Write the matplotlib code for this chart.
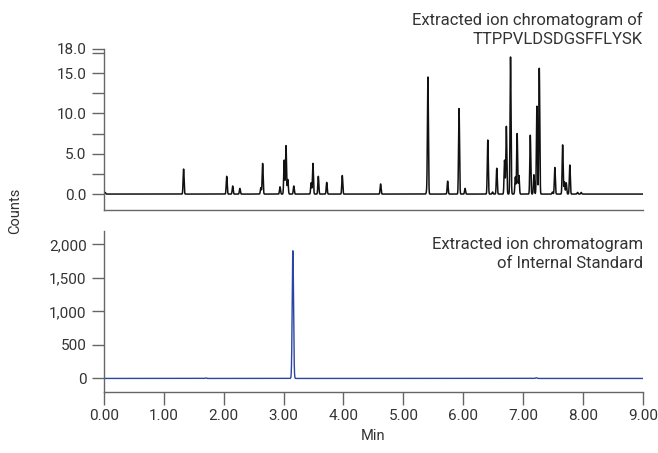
import numpy as np
import matplotlib.pyplot as plt
from matplotlib.ticker import FuncFormatter, MultipleLocator

plt.rcParams['font.family'] = ['Roboto', 'DejaVu Sans']

# peak retention times (min) and heights
pep_rt = [0.02, 1.33, 2.05, 2.15, 2.27, 2.62, 2.65, 2.94, 3.01, 3.04, 3.07, 3.17,
          3.46, 3.49, 3.58, 3.72, 3.98, 4.62, 5.39, 5.41, 5.74, 5.93, 6.03, 6.41,
          6.49, 6.56, 6.69, 6.72, 6.79, 6.87, 6.90, 6.93, 7.12, 7.18, 7.23, 7.27,
          7.49, 7.53, 7.66, 7.69, 7.72, 7.78, 7.91, 7.97]
pep_h = [0.2, 3.1, 2.2, 1.0, 0.7, 0.8, 3.8, 0.9, 4.2, 6.0, 1.8, 1.0,
         1.4, 3.8, 2.2, 1.45, 2.3, 1.25, 0.3, 14.5, 1.6, 10.6, 0.7, 6.7,
         0.25, 3.2, 4.2, 8.4, 17.0, 2.1, 7.5, 2.3, 7.3, 2.4, 10.9, 15.6,
         0.25, 3.3, 6.1, 1.5, 1.4, 3.6, 0.2, 0.2]

is_rt = [1.70, 3.155, 7.22]
is_h = [8, 1905, 10]

t = np.linspace(0, 9, 9001)


def trace(rts, hs, sigma):
    y = np.zeros_like(t)
    for r, h in zip(rts, hs):
        y += h * np.exp(-0.5 * ((t - r) / sigma) ** 2)
    return y


txt = '#333333'
spine = '#666666'

fig = plt.figure(figsize=(6.58, 4.53), dpi=100)
ax1 = fig.add_axes([0.158, 0.536, 0.819, 0.356])
ax2 = fig.add_axes([0.158, 0.135, 0.819, 0.355])

ax1.plot(t, trace(pep_rt, pep_h, 0.008), color='#111111', lw=1.1)
ax2.plot(t, trace(is_rt, is_h, 0.011), color='#2b45a3', lw=1.0)

for ax in (ax1, ax2):
    ax.set_xlim(0, 9)
    for s in ('top', 'right'):
        ax.spines[s].set_visible(False)
    for s in ('left', 'bottom'):
        ax.spines[s].set_color(spine)
        ax.spines[s].set_linewidth(1.0)
    ax.tick_params(colors=spine, labelcolor=txt, labelsize=11, length=9, width=1.0)

ax1.set_ylim(-2, 18)
ax1.set_yticks([0, 5, 10, 15, 18])
ax1.yaxis.set_minor_locator(MultipleLocator(2.5))
ax1.tick_params(axis='y', which='minor', length=9, width=1.0, colors=spine)
ax1.yaxis.set_major_formatter(FuncFormatter(lambda v, p: f'{v:.1f}'))
ax1.set_xticks([])

ax2.set_ylim(-200, 2200)
ax2.set_yticks([0, 500, 1000, 1500, 2000])
ax2.yaxis.set_major_formatter(FuncFormatter(lambda v, p: f'{v:,.0f}'))
ax2.set_xticks(np.arange(0, 10, 1))
ax2.xaxis.set_major_formatter(FuncFormatter(lambda v, p: f'{v:.2f}'))

fig.text(0.977, 0.973, 'Extracted ion chromatogram of\nTTPPVLDSDGSFFLYSK',
         ha='right', va='top', fontsize=12, color=txt, linespacing=1.35)
fig.text(0.977, 0.477, 'Extracted ion chromatogram\nof Internal Standard',
         ha='right', va='top', fontsize=12, color=txt, linespacing=1.35)

fig.text(0.023, 0.535, 'Counts', rotation=90, ha='center', va='center',
         fontsize=10.5, color=txt)
fig.text(0.567, 0.022, 'Min', ha='center', va='bottom', fontsize=10.5, color=txt)

fig.savefig('out.png', dpi=100)
